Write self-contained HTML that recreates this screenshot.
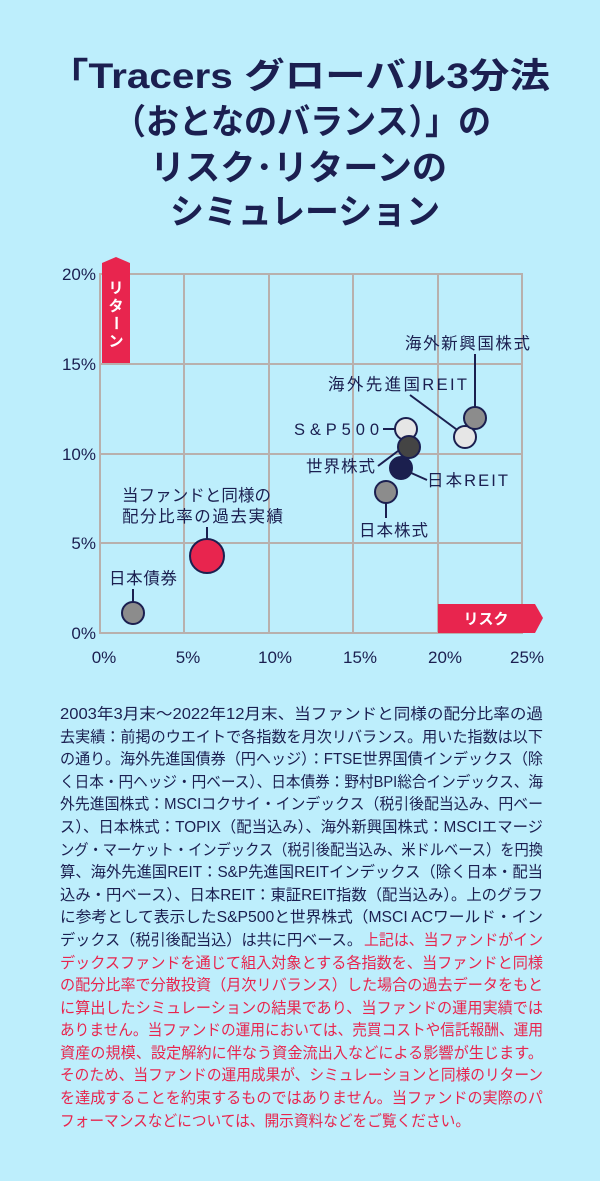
<!DOCTYPE html>
<html><head><meta charset="utf-8"><style>
html,body{margin:0;padding:0;background:#bdeefc}
svg{display:block}
text{font-family:"Liberation Sans","Noto Sans CJK JP",sans-serif}
</style></head><body>
<svg width="600" height="1181" viewBox="0 0 600 1181" xmlns="http://www.w3.org/2000/svg">
<rect width="600" height="1181" fill="#bdeefc"/>
<g fill="#1b1f50" font-weight="bold" font-size="35">
<text x="48" y="88" textLength="502" lengthAdjust="spacingAndGlyphs">「Tracers グローバル3分法</text>
<text x="113" y="134" textLength="378" lengthAdjust="spacingAndGlyphs">（おとなのバランス）」の</text>
<text x="150" y="180" textLength="297" lengthAdjust="spacingAndGlyphs">リスク･リターンの</text>
<text x="170" y="224" textLength="270" lengthAdjust="spacingAndGlyphs">シミュレーション</text>
</g>
<g stroke="#b8b0ad" stroke-width="2" fill="none">
<rect x="100" y="274" width="422" height="359"/>
<line x1="184" y1="274" x2="184" y2="633"/><line x1="269" y1="274" x2="269" y2="633"/>
<line x1="353" y1="274" x2="353" y2="633"/><line x1="438" y1="274" x2="438" y2="633"/>
<line x1="100" y1="364" x2="522" y2="364"/><line x1="100" y1="454" x2="522" y2="454"/>
<line x1="100" y1="543" x2="522" y2="543"/>
</g>
<path d="M102 263 L116 257 L130 263 L130 363 L102 363 Z" fill="#e8254e"/>
<g fill="#fff" font-size="15" font-weight="bold">
<text x="116" y="293" text-anchor="middle">リ</text>
<text x="116" y="311" text-anchor="middle">タ</text>
<text x="116" y="328" text-anchor="middle" transform="rotate(90 116 323)">ー</text>
<text x="116" y="346" text-anchor="middle">ン</text>
</g>
<path d="M438 604 L535 604 L543 618 L535 633 L438 633 Z" fill="#e8254e"/>
<text x="486" y="624" fill="#fff" font-size="15" font-weight="bold" text-anchor="middle">リスク</text>
<g fill="#1b1f50" font-size="17" text-anchor="end">
<text x="96" y="280">20%</text><text x="96" y="370">15%</text><text x="96" y="460">10%</text>
<text x="96" y="549">5%</text><text x="96" y="639">0%</text>
</g>
<g fill="#1b1f50" font-size="17" text-anchor="middle">
<text x="104" y="663">0%</text><text x="188" y="663">5%</text><text x="275" y="663">10%</text>
<text x="360" y="663">15%</text><text x="445" y="663">20%</text><text x="527" y="663">25%</text>
</g>
<g stroke="#1b1f50" stroke-width="2" fill="none">
<line x1="475" y1="354" x2="475" y2="410"/>
<line x1="410" y1="395" x2="460" y2="432"/>
<line x1="383" y1="429" x2="396" y2="429"/>
<line x1="378" y1="466" x2="402" y2="448"/>
<line x1="427" y1="480" x2="400" y2="468"/>
<line x1="386" y1="502" x2="386" y2="518"/>
<line x1="207" y1="527" x2="207" y2="542"/>
<line x1="133" y1="589" x2="133" y2="602"/>
</g>
<g stroke="#1b1f50" stroke-width="2">
<circle cx="133" cy="613" r="11" fill="#8c8c8c"/>
<circle cx="207" cy="556" r="17" fill="#e8254e"/>
<circle cx="386" cy="492" r="11" fill="#8c8c8c"/>
<circle cx="465" cy="437" r="11" fill="#e6e6e6"/>
<circle cx="475" cy="418" r="11" fill="#8c8c8c"/>
<circle cx="406" cy="429" r="11" fill="#e6e6e6"/>
<circle cx="409" cy="447" r="11" fill="#444"/>
<circle cx="401" cy="468" r="11" fill="#1b1f4e"/>
</g>
<g fill="#1b1f50" font-size="16.5" lengthAdjust="spacingAndGlyphs">
<text x="405" y="349" textLength="125">海外新興国株式</text>
<text x="328" y="390" textLength="139">海外先進国REIT</text>
<text x="294" y="435" textLength="85">S&amp;P500</text>
<text x="306" y="472" textLength="69">世界株式</text>
<text x="427" y="486" textLength="81">日本REIT</text>
<text x="359" y="536" textLength="69">日本株式</text>
<text x="122" y="501" textLength="149">当ファンドと同様の</text>
<text x="122" y="522" textLength="161">配分比率の過去実績</text>
<text x="109" y="584" textLength="68">日本債券</text>
</g>
<g font-size="15.5" fill="#1b1f50">
<text x="60" y="719" textLength="483" lengthAdjust="spacingAndGlyphs">2003年3月末～2022年12月末、当ファンドと同様の配分比率の過</text>
<text x="60" y="742" textLength="483" lengthAdjust="spacingAndGlyphs">去実績：前掲のウエイトで各指数を月次リバランス。用いた指数は以下</text>
<text x="60" y="764" textLength="483" lengthAdjust="spacingAndGlyphs">の通り。海外先進国債券（円ヘッジ）：FTSE世界国債インデックス（除</text>
<text x="60" y="787" textLength="483" lengthAdjust="spacingAndGlyphs">く日本・円ヘッジ・円ベース）、日本債券：野村BPI総合インデックス、海</text>
<text x="60" y="809" textLength="483" lengthAdjust="spacingAndGlyphs">外先進国株式：MSCIコクサイ・インデックス（税引後配当込み、円ベー</text>
<text x="60" y="832" textLength="483" lengthAdjust="spacingAndGlyphs">ス）、日本株式：TOPIX（配当込み）、海外新興国株式：MSCIエマージ</text>
<text x="60" y="855" textLength="483" lengthAdjust="spacingAndGlyphs">ング・マーケット・インデックス（税引後配当込み、米ドルベース）を円換</text>
<text x="60" y="877" textLength="483" lengthAdjust="spacingAndGlyphs">算、海外先進国REIT：S&amp;P先進国REITインデックス（除く日本・配当</text>
<text x="60" y="900" textLength="483" lengthAdjust="spacingAndGlyphs">込み・円ベース）、日本REIT：東証REIT指数（配当込み）。上のグラフ</text>
<text x="60" y="922" textLength="483" lengthAdjust="spacingAndGlyphs">に参考として表示したS&amp;P500と世界株式（MSCI ACワールド・イン</text>
<text x="60" y="945" textLength="302" lengthAdjust="spacingAndGlyphs">デックス（税引後配当込）は共に円ベース。</text>
<text x="364" y="945" textLength="179" lengthAdjust="spacingAndGlyphs" fill="#e8254e">上記は、当ファンドがイン</text>
</g>
<g font-size="15.5" fill="#e8254e">
<text x="60" y="968" textLength="483" lengthAdjust="spacingAndGlyphs">デックスファンドを通じて組入対象とする各指数を、当ファンドと同様</text>
<text x="60" y="990" textLength="483" lengthAdjust="spacingAndGlyphs">の配分比率で分散投資（月次リバランス）した場合の過去データをもと</text>
<text x="60" y="1013" textLength="483" lengthAdjust="spacingAndGlyphs">に算出したシミュレーションの結果であり、当ファンドの運用実績では</text>
<text x="60" y="1035" textLength="483" lengthAdjust="spacingAndGlyphs">ありません。当ファンドの運用においては、売買コストや信託報酬、運用</text>
<text x="60" y="1058" textLength="483" lengthAdjust="spacingAndGlyphs">資産の規模、設定解約に伴なう資金流出入などによる影響が生じます。</text>
<text x="60" y="1080" textLength="483" lengthAdjust="spacingAndGlyphs">そのため、当ファンドの運用成果が、シミュレーションと同様のリターン</text>
<text x="60" y="1103" textLength="483" lengthAdjust="spacingAndGlyphs">を達成することを約束するものではありません。当ファンドの実際のパ</text>
<text x="60" y="1126" textLength="410" lengthAdjust="spacingAndGlyphs">フォーマンスなどについては、開示資料などをご覧ください。</text>
</g>
</svg>
</body></html>
